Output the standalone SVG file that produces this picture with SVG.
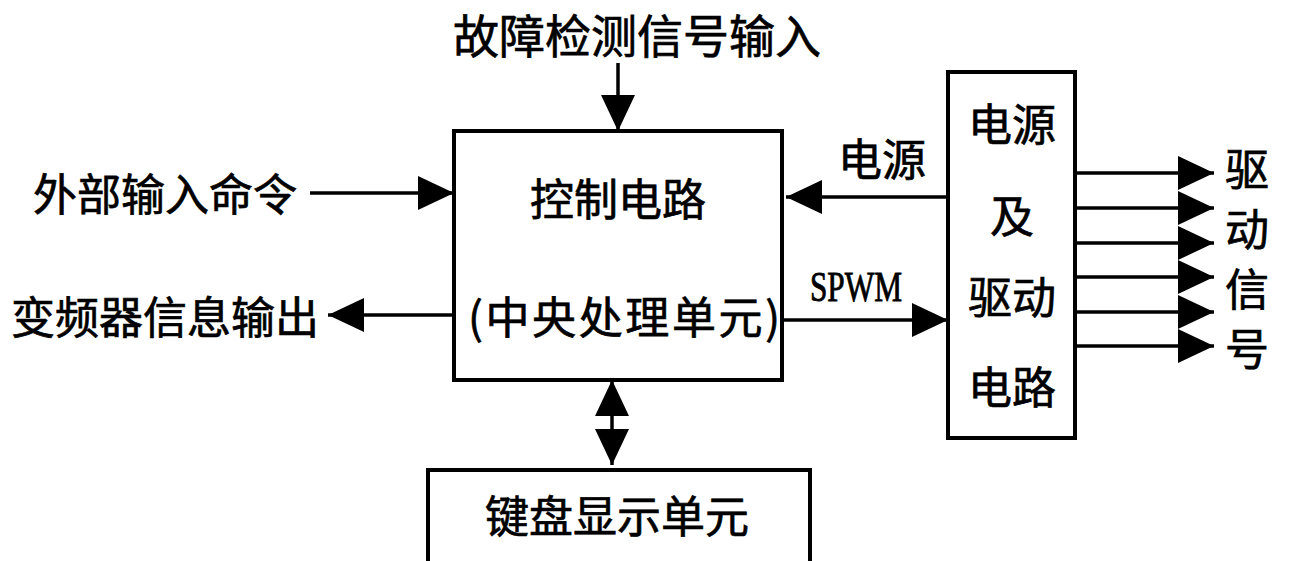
<svg xmlns="http://www.w3.org/2000/svg" width="1295" height="561" viewBox="0 0 1295 561">
<style>
.t{font-family:"Noto Sans CJK SC","Noto Sans",sans-serif;font-size:44px;fill:#000;stroke:#000;stroke-width:0.7;}
.s{font-family:"Liberation Serif",serif;font-size:43px;fill:#000;stroke:#000;stroke-width:0.9;}
.box{fill:#fff;stroke:#000;stroke-width:4;}
.ln{stroke:#000;stroke-width:3.5;fill:none;}
</style>
<defs>
<marker id="ah" viewBox="0 0 36 34" refX="36" refY="17" markerWidth="36" markerHeight="34" markerUnits="userSpaceOnUse" orient="auto-start-reverse">
<path d="M0,0 L36,17 L0,34 Z" fill="#000"/>
</marker>
</defs>
<rect width="1295" height="561" fill="#fff"/>
<g id="main">
<rect class="box" x="454" y="131" width="328" height="249"/>
<text class="t" x="618" y="216" text-anchor="middle">控制电路</text>
<text class="t" x="624" y="334" text-anchor="middle" textLength="312" lengthAdjust="spacing">(中央处理单元)</text>
</g>
<g id="power">
<rect class="box" x="948" y="72" width="127" height="366"/>
<text class="t" x="1012" y="141" text-anchor="middle">电源</text>
<text class="t" x="1012" y="233" text-anchor="middle">及</text>
<text class="t" x="1012" y="314" text-anchor="middle">驱动</text>
<text class="t" x="1012" y="404" text-anchor="middle">电路</text>
</g>
<g id="keyboard">
<rect class="box" x="428" y="470" width="382" height="110"/>
<text class="t" x="617" y="533" text-anchor="middle">键盘显示单元</text>
</g>
<g id="labels">
<text class="t" x="637" y="53" text-anchor="middle" style="font-size:46px">故障检测信号输入</text>
<text class="t" x="165" y="211" text-anchor="middle">外部输入命令</text>
<text class="t" x="165" y="334" text-anchor="middle">变频器信息输出</text>
<text class="t" x="882" y="176" text-anchor="middle">电源</text>
<text class="s" x="810" y="301" textLength="92" lengthAdjust="spacingAndGlyphs">SPWM</text>
<text class="t" x="1247" y="186" text-anchor="middle">驱</text>
<text class="t" x="1247" y="246" text-anchor="middle">动</text>
<text class="t" x="1247" y="306" text-anchor="middle">信</text>
<text class="t" x="1247" y="366" text-anchor="middle">号</text>
</g>
<g id="connectors">
<line class="ln" x1="618" y1="63" x2="618" y2="131" marker-end="url(#ah)"/>
<line class="ln" x1="310" y1="193" x2="454" y2="193" marker-end="url(#ah)"/>
<line class="ln" x1="454" y1="315" x2="328" y2="315" marker-end="url(#ah)"/>
<line class="ln" x1="948" y1="197" x2="786" y2="197" marker-end="url(#ah)"/>
<line class="ln" x1="782" y1="320" x2="948" y2="320" marker-end="url(#ah)"/>
<line class="ln" x1="612" y1="380" x2="612" y2="465" marker-start="url(#ah)" marker-end="url(#ah)"/>
<line class="ln" x1="1075" y1="173" x2="1214" y2="173" marker-end="url(#ah)"/>
<line class="ln" x1="1075" y1="208" x2="1214" y2="208" marker-end="url(#ah)"/>
<line class="ln" x1="1075" y1="243" x2="1214" y2="243" marker-end="url(#ah)"/>
<line class="ln" x1="1075" y1="277" x2="1214" y2="277" marker-end="url(#ah)"/>
<line class="ln" x1="1075" y1="312" x2="1214" y2="312" marker-end="url(#ah)"/>
<line class="ln" x1="1075" y1="346" x2="1214" y2="346" marker-end="url(#ah)"/>
</g>
</svg>
